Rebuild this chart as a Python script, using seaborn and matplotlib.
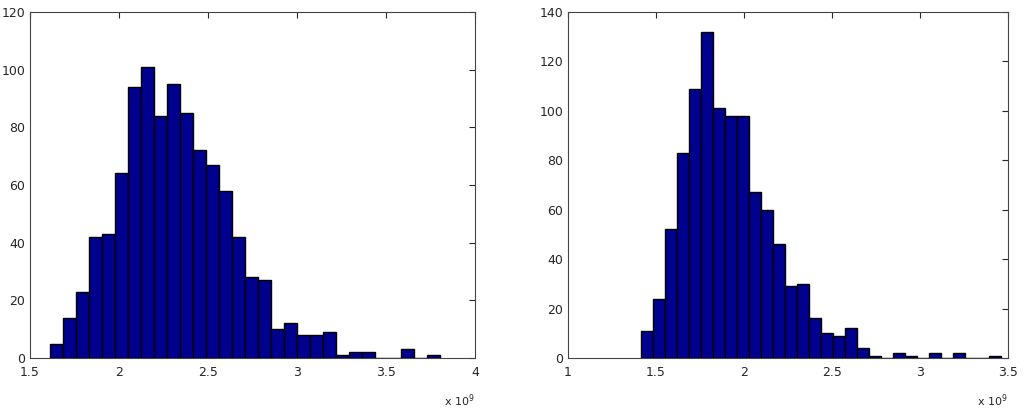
import numpy as np
import pandas as pd
import matplotlib
matplotlib.use("Agg")
import matplotlib.pyplot as plt
import seaborn as sns

left_start, left_end = 1.611, 3.806
left_counts = [5,14,23,42,43,64,94,101,84,95,85,72,67,58,42,28,27,10,12,8,8,9,1,2,2,0,0,3,0,1]
right_start, right_end = 1.417, 3.461
right_counts = [11,24,52,83,109,132,101,98,98,67,60,46,29,30,16,10,9,12,4,1,0,2,1,0,2,0,2,0,0,1]

sns.set_style("white")
plt.rcParams['font.family'] = ['DejaVu Sans']
fig = plt.figure(figsize=(10.24, 4.09), dpi=100)
ax1 = fig.add_axes([30/1024, 51/409, 445/1024, 346/409])
ax2 = fig.add_axes([568/1024, 51/409, 440/1024, 346/409])

def draw(ax, start, end, counts, xlim, ylim, yticks, xticks):
    n = len(counts)
    edges = np.linspace(start, end, n + 1)
    df = pd.DataFrame({"c": (edges[:-1] + edges[1:]) / 2, "w": counts})
    sns.histplot(data=df, x="c", weights="w", bins=list(edges), ax=ax, color="#00008f",
                 edgecolor="black", linewidth=1.0, alpha=1)
    ax.set_xlim(*xlim); ax.set_ylim(*ylim)
    ax.set_xticks(xticks); ax.set_yticks(list(yticks))
    ax.set_xticklabels([f"{t:g}" for t in xticks])
    ax.set_ylabel(""); ax.set_xlabel("")
    ax.tick_params(direction="in", top=True, right=True, labelsize=9, length=4)
    ax.tick_params(axis="x", pad=6)
    for s in ax.spines.values():
        s.set_color("#444444"); s.set_linewidth(0.8)
    ax.text(1.0, -0.1, r"x 10$^{9}$", transform=ax.transAxes, ha="right", va="top", fontsize=8)

draw(ax1, left_start, left_end, left_counts, (1.5, 4), (0, 120), range(0, 121, 20), [1.5, 2, 2.5, 3, 3.5, 4])
draw(ax2, right_start, right_end, right_counts, (1, 3.5), (0, 140), range(0, 141, 20), [1, 1.5, 2, 2.5, 3, 3.5])
fig.savefig("out.png", dpi=100)
